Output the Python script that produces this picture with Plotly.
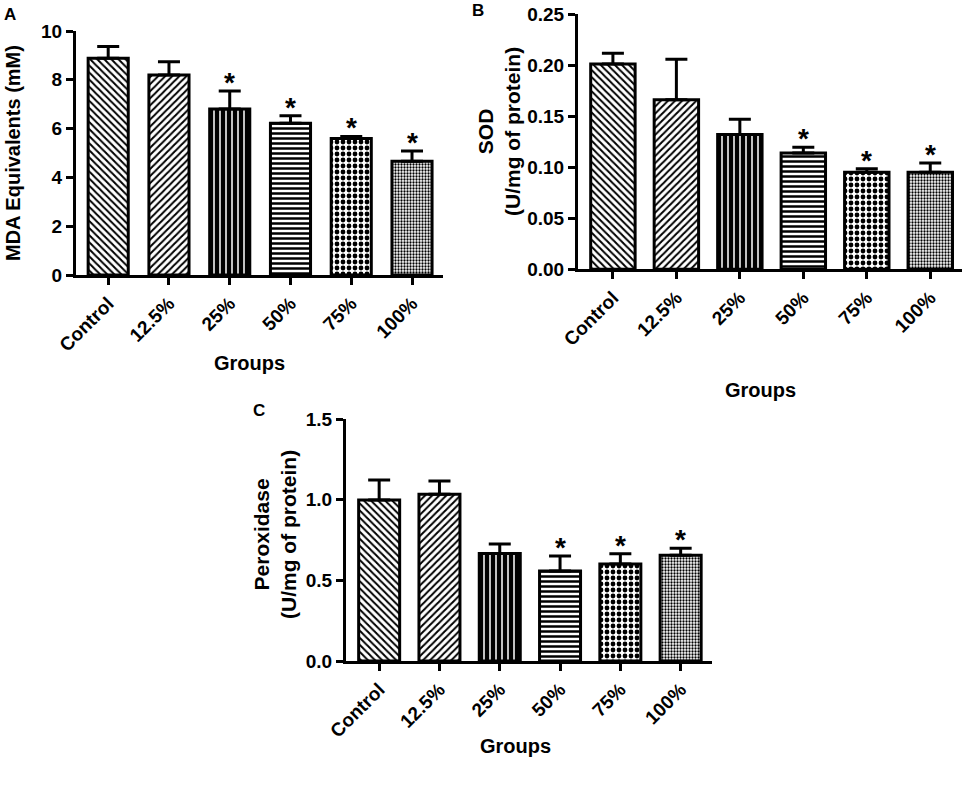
import plotly.graph_objects as go

# data
groups = ['Control', '12.5%', '25%', '50%', '75%', '100%']

mda_mean = [8.88, 8.20, 6.80, 6.22, 5.59, 4.66]
mda_err = [0.48, 0.54, 0.74, 0.31, 0.09, 0.42]
mda_sig = [0, 0, 1, 1, 1, 1]

sod_mean = [0.201, 0.166, 0.132, 0.114, 0.095, 0.095]
sod_err = [0.0105, 0.0396, 0.015, 0.0055, 0.0035, 0.009]
sod_sig = [0, 0, 0, 1, 1, 1]

perox_mean = [0.998, 1.033, 0.667, 0.558, 0.601, 0.655]
perox_err = [0.124, 0.083, 0.058, 0.093, 0.064, 0.044]
perox_sig = [0, 0, 0, 1, 1, 1]

# patterns per group
pat_shape = ['\\', '/', '|', '-', '.', '.']
pat_size = [5, 5, 6, 5, 6, 3]
pat_solid = [0.4, 0.4, 0.75, 0.5, 0.5, 0.45]

W, H = 965, 789
FONT = 'Liberation Sans'


def px(x):
    return x / W


def py(y):
    return 1 - y / H


fig = go.Figure()

panels = [
    # (mean, err, sig, xaxis, yaxis, bar width)
    (mda_mean, mda_err, mda_sig, 'x', 'y', 0.66),
    (sod_mean, sod_err, sod_sig, 'x2', 'y2', 0.70),
    (perox_mean, perox_err, perox_sig, 'x3', 'y3', 0.68),
]

xs = list(range(len(groups)))
star_font = dict(family=FONT, size=28, color='black', weight='bold')
for mean, err, sig, xa, ya, bw in panels:
    fig.add_trace(go.Bar(
        x=xs, y=mean, width=bw, xaxis=xa, yaxis=ya, showlegend=False,
        marker=dict(color='white', line=dict(color='black', width=3),
                    pattern=dict(shape=pat_shape, size=pat_size, solidity=pat_solid,
                                 fgcolor='black', bgcolor='white', fillmode='replace')),
        error_y=dict(type='data', array=err, arrayminus=[0] * len(err), symmetric=False,
                     color='black', thickness=3, width=11),
    ))
    # significance stars above the error caps
    for x, m, e, s in zip(xs, mean, err, sig):
        if s:
            fig.add_annotation(text='*', x=x, y=m + e, xref=xa, yref=ya,
                               showarrow=False, font=star_font,
                               yanchor='bottom', yshift=-9)

tickfont = dict(family=FONT, size=19, color='black', weight='bold')
xcommon = dict(tickvals=xs, ticktext=groups, tickangle=-45, tickfont=tickfont,
               showline=True, linewidth=3, linecolor='black', ticks='outside',
               tickwidth=3, ticklen=7, tickcolor='black', showgrid=False, zeroline=False,
               automargin=False)
ycommon = dict(tickfont=tickfont, showline=True, linewidth=3, linecolor='black',
               ticks='outside', tickwidth=3, ticklen=7, tickcolor='black',
               showgrid=False, zeroline=False, automargin=False)

fig.update_layout(
    template='none',
    width=W, height=H, margin=dict(l=0, r=0, t=0, b=0),
    plot_bgcolor='white', paper_bgcolor='white', bargap=0.3,
    xaxis=dict(xcommon, domain=[px(76), px(443)], range=[-0.53, 5.51], anchor='y'),
    yaxis=dict(ycommon, domain=[py(275), py(31)], range=[0, 10], dtick=2, anchor='x'),
    xaxis2=dict(xcommon, domain=[px(578), px(962)], range=[-0.55, 5.5], anchor='y2'),
    yaxis2=dict(ycommon, domain=[py(269.3), py(14)], range=[0, 0.25], dtick=0.05,
                tickformat='.2f', anchor='x2'),
    xaxis3=dict(xcommon, domain=[px(346), px(712)], range=[-0.55, 5.52], anchor='y3'),
    yaxis3=dict(ycommon, domain=[py(661), py(419)], range=[0, 1.5], dtick=0.5,
                tickformat='.1f', anchor='x3'),
)

notes = [
    ('A', 10, 14, 0, 17),
    ('B', 478, 10, 0, 17),
    ('C', 259, 410, 0, 17),
    ('MDA Equivalents (mM)', 13, 153, -90, 20),
    ('SOD<br>(U/mg of protein)', 499, 132, -90, 21),
    ('Peroxidase<br>(U/mg of protein)', 275, 535, -90, 21),
    ('Groups', 250, 363, 0, 20),
    ('Groups', 760, 390, 0, 20),
    ('Groups', 515, 746, 0, 20),
]
for txt, x, y, ang, size in notes:
    fig.add_annotation(text=txt, x=px(x), y=py(y), xref='paper', yref='paper',
                       showarrow=False, textangle=ang,
                       font=dict(family=FONT, size=size, color='black', weight='bold'),
                       xanchor='center', yanchor='middle')

# page body has a default margin; drop it so the figure sits at 0,0
fig.write_html('out.html', config={'displayModeBar': False},
               post_script="document.body.style.margin='0';document.body.style.overflow='hidden';")
